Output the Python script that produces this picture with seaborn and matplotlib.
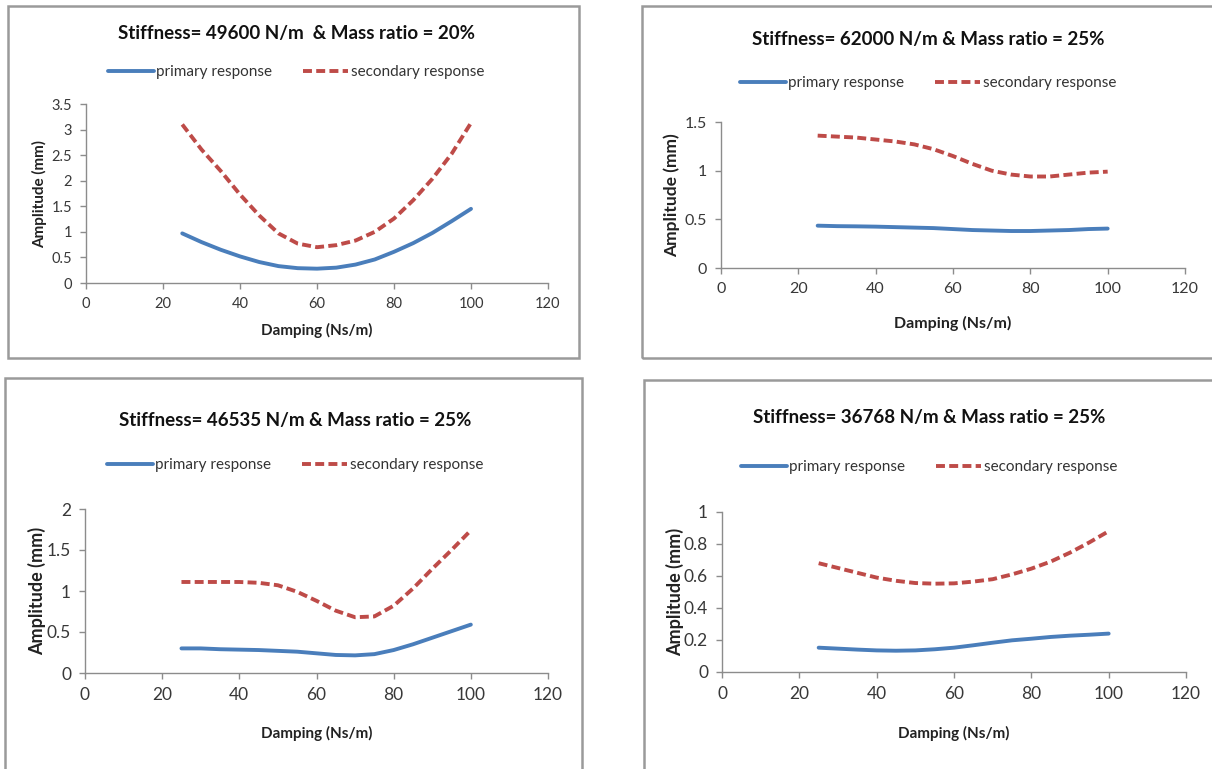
import matplotlib
matplotlib.use('Agg')

import matplotlib.pyplot as plt
import seaborn as sns
import pandas as pd
from matplotlib.patches import Rectangle

# values every 5 Ns/m
damping = [25, 30, 35, 40, 45, 50, 55, 60, 65, 70, 75, 80, 85, 90, 95, 100]

p1_primary = [0.97, 0.80, 0.65, 0.52, 0.41, 0.33, 0.29, 0.28, 0.30, 0.36, 0.46, 0.61, 0.78, 0.98, 1.21, 1.45]
p1_secondary = [3.10, 2.61, 2.19, 1.73, 1.32, 0.97, 0.77, 0.70, 0.74, 0.83, 1.00, 1.26, 1.62, 2.04, 2.53, 3.13]

p2_primary = [0.435, 0.43, 0.428, 0.425, 0.42, 0.415, 0.41, 0.40, 0.39, 0.385, 0.38, 0.38, 0.385, 0.39, 0.40, 0.405]
p2_secondary = [1.36, 1.35, 1.34, 1.32, 1.30, 1.27, 1.22, 1.15, 1.07, 1.00, 0.96, 0.94, 0.94, 0.96, 0.98, 0.99]

p3_primary = [0.30, 0.30, 0.29, 0.285, 0.28, 0.27, 0.26, 0.24, 0.22, 0.215, 0.23, 0.28, 0.35, 0.43, 0.51, 0.59]
p3_secondary = [1.11, 1.11, 1.11, 1.11, 1.10, 1.07, 0.99, 0.88, 0.76, 0.68, 0.69, 0.82, 1.03, 1.27, 1.50, 1.74]

p4_primary = [0.152, 0.146, 0.14, 0.135, 0.133, 0.135, 0.142, 0.152, 0.167, 0.183, 0.198, 0.208, 0.219, 0.227, 0.233, 0.24]
p4_secondary = [0.68, 0.65, 0.62, 0.59, 0.57, 0.556, 0.552, 0.554, 0.565, 0.58, 0.61, 0.646, 0.69, 0.746, 0.81, 0.88]

titles = ['Stiffness= 49600 N/m  & Mass ratio = 20%',
          'Stiffness= 62000 N/m & Mass ratio = 25%',
          'Stiffness= 46535 N/m & Mass ratio = 25%',
          'Stiffness= 36768 N/m & Mass ratio = 25%']
y_maxes = [3.5, 1.5, 2, 1]
y_steps = [0.5, 0.5, 0.5, 0.2]
x_ticks = [0, 20, 40, 60, 80, 100, 120]

W, H = 1212, 769

sns.set_theme(style='white')
plt.rcParams['font.family'] = ['Lato', 'DejaVu Sans']

fig = plt.figure(figsize=(W / 100, H / 100), dpi=100)

def fx(px):
    return px / W

def fy(py):
    return 1 - py / H

# panel layout in pixels: box (l, t, r, b), axes (l, t, r, b), title centre, legend y, label sizes
panels = [
    dict(box=(8, 6, 579, 358), ax=(86, 104, 548, 283), cx=296, title_y=33, leg_y=72,
         xl_y=330, yl_x=40, xlab=11, ylab=11, tick=10.5),
    dict(box=(642, 6, 1215, 358), ax=(721, 122, 1185, 268), cx=928, title_y=40, leg_y=83,
         xl_y=323, yl_x=672, xlab=11.5, ylab=12.5, tick=11.5),
    dict(box=(5, 378, 582, 775), ax=(85, 509, 548, 673), cx=295, title_y=420, leg_y=465,
         xl_y=733, yl_x=37, xlab=11, ylab=13, tick=12.5),
    dict(box=(644, 380, 1215, 775), ax=(722, 512, 1186, 672), cx=929, title_y=417, leg_y=467,
         xl_y=733, yl_x=675, xlab=11, ylab=13, tick=12.5),
]

series = [(p1_primary, p1_secondary), (p2_primary, p2_secondary),
          (p3_primary, p3_secondary), (p4_primary, p4_secondary)]

blue = '#4A7EBB'
red = '#BE4B48'
grey = '#8C8C8C'

for i, p in enumerate(panels):
    bl, bt, br, bb = p['box']
    fig.patches.append(Rectangle((fx(bl), fy(bb)), fx(br - bl), fy(bt) - fy(bb),
                                 transform=fig.transFigure, fill=False,
                                 edgecolor='#9A9A9A', linewidth=1.8))
    l, t, r, b = p['ax']
    ax = fig.add_axes([fx(l), fy(b), fx(r - l), fy(t) - fy(b)])
    prim, sec = series[i]
    df = pd.DataFrame({'Damping': damping, 'primary': prim, 'secondary': sec})
    sns.lineplot(data=df, x='Damping', y='primary', ax=ax, color=blue, linewidth=2.8,
                 label='primary response', legend=False)
    sns.lineplot(data=df, x='Damping', y='secondary', ax=ax, color=red, linewidth=2.8,
                 linestyle=(0, (2.3, 1.1)), label='secondary response', legend=False)
    ax.set_xlim(0, 120)
    ax.set_ylim(0, y_maxes[i])
    ax.set_xticks(x_ticks)
    step = y_steps[i]
    n = int(round(y_maxes[i] / step))
    ax.set_yticks([round(k * step, 2) for k in range(n + 1)])
    ax.set_yticklabels(['%g' % round(k * step, 2) for k in range(n + 1)])
    for s in ['top', 'right']:
        ax.spines[s].set_visible(False)
    for s in ['left', 'bottom']:
        ax.spines[s].set_color(grey)
        ax.spines[s].set_linewidth(1)
    ax.tick_params(axis='both', direction='out', length=4, width=1, color=grey,
                   labelsize=p['tick'], labelcolor='#383838', pad=6, left=True, bottom=True)
    ax.set_xlabel('')
    ax.set_ylabel('')
    ax.patch.set_alpha(0)
    cx = fx(p['cx'])
    fig.text(cx, fy(p['title_y']), titles[i], ha='center', va='center',
             fontsize=13.5, fontweight='bold', color='#111111')
    ax.legend(loc='center', bbox_to_anchor=(cx, fy(p['leg_y'])), bbox_transform=fig.transFigure,
              ncol=2, frameon=False, fontsize=11, handlelength=3.0, handletextpad=0.15,
              columnspacing=2.0, labelcolor='#333333')
    fig.text(fx((l + r) / 2), fy(p['xl_y']), 'Damping (Ns/m)', ha='center', va='center',
             fontsize=p['xlab'], fontweight='bold', color='#222222')
    fig.text(fx(p['yl_x']), fy((t + b) / 2), 'Amplitude (mm)', ha='center', va='center',
             rotation=90, fontsize=p['ylab'], fontweight='bold', color='#222222')

fig.savefig('out.png', dpi=100)
